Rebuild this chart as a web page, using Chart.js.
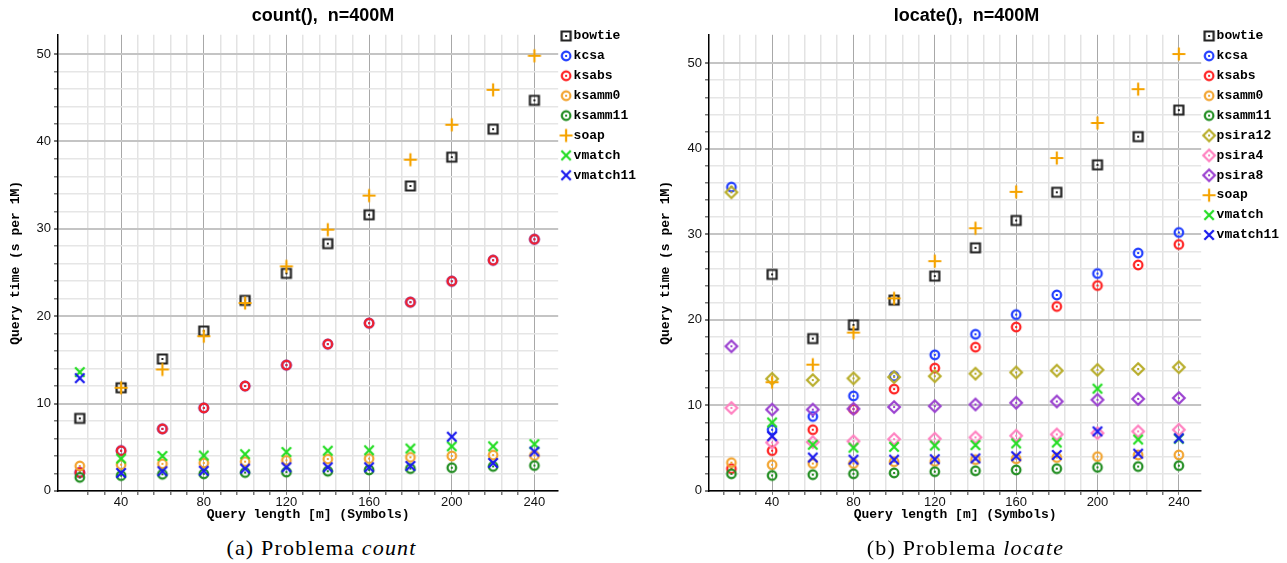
<!DOCTYPE html>
<html>
<head>
<meta charset="utf-8">
<script src="https://cdn.jsdelivr.net/npm/chart.js@4.4.1/dist/chart.umd.min.js"></script>
<style>
  body { margin: 0; background: #fff; width: 1287px; height: 563px; overflow: hidden; position: relative; }
  .panel { position: absolute; top: 0; height: 563px; }
  .panel canvas { display: block; }
  .caption { font-family: 'Liberation Serif', serif; font-size: 22px; letter-spacing: 1.2px;
             text-align: center; line-height: 24px; margin-top: 9px; color: #000; }
</style>
</head>
<body>
<div class="panel" style="left:0px; width:643px">
  <canvas id="countChart" width="646" height="527"></canvas>
  <div class="caption" style="width:643px">(a) Problema <i>count</i></div>
</div>
<div class="panel" style="left:644px; width:643px">
  <canvas id="locateChart" width="645" height="527"></canvas>
  <div class="caption" style="width:643px">(b) Problema <i>locate</i></div>
</div>
<script>
// query lengths (x axis)
const queryLengths = [20, 40, 60, 80, 100, 120, 140, 160, 180, 200, 220, 240];

// count(), n=400M  -- seconds per 1M queries
const bowtieCount   = [8.3, 11.8, 15.1, 18.3, 21.8, 24.9, 28.3, 31.6, 34.9, 38.2, 41.4, 44.7];
const kcsaCount     = [2.1, 4.6, 7.1, 9.5, 12.0, 14.4, 16.8, 19.2, 21.6, 24.0, 26.4, 28.8];
const ksabsCount    = [2.1, 4.6, 7.1, 9.5, 12.0, 14.4, 16.8, 19.2, 21.6, 24.0, 26.4, 28.8];
const ksamm0Count   = [2.85, 3.0, 3.1, 3.2, 3.35, 3.5, 3.65, 3.7, 3.85, 4.0, 4.1, 4.05];
const ksamm11Count  = [1.55, 1.75, 1.9, 1.95, 2.1, 2.15, 2.25, 2.4, 2.55, 2.65, 2.8, 2.9];
const soapCount     = [null, 11.8, 13.9, 17.7, 21.5, 25.7, 29.9, 33.8, 37.9, 41.9, 45.9, 49.8];
const vmatchCount   = [13.6, 3.7, 4.0, 4.05, 4.2, 4.45, 4.6, 4.65, 4.85, 5.1, 5.1, 5.35];
const vmatch11Count = [12.9, 2.05, 2.25, 2.3, 2.55, 2.7, 2.7, 2.7, 2.85, 6.2, 3.2, 4.5];

// locate(), n=400M
const bowtieLocate   = [null, 25.3, 17.8, 19.4, 22.3, 25.1, 28.4, 31.6, 34.9, 38.1, 41.4, 44.5];
const kcsaLocate     = [35.5, 7.15, 8.7, 11.1, 13.4, 15.9, 18.3, 20.6, 22.9, 25.4, 27.8, 30.2];
const ksabsLocate    = [2.6, 4.7, 7.15, 9.55, 11.9, 14.35, 16.8, 19.15, 21.55, 24.0, 26.4, 28.8];
const ksamm0Locate   = [3.3, 3.05, 3.2, 3.2, 3.4, 3.45, 3.65, 3.75, 3.9, 4.0, 4.2, 4.2];
const ksamm11Locate  = [2.0, 1.8, 1.9, 2.0, 2.1, 2.25, 2.35, 2.45, 2.6, 2.75, 2.85, 2.95];
const psira12Locate  = [34.9, 13.1, 12.95, 13.15, 13.3, 13.4, 13.7, 13.85, 14.05, 14.15, 14.25, 14.45];
const psira4Locate   = [9.7, 5.65, 5.7, 5.8, 6.05, 6.1, 6.25, 6.45, 6.6, 6.75, 6.95, 7.15];
const psira8Locate   = [16.9, 9.5, 9.5, 9.6, 9.8, 9.9, 10.1, 10.3, 10.45, 10.65, 10.75, 10.85];
const soapLocate     = [null, 12.7, 14.75, 18.5, 22.5, 26.85, 30.7, 34.95, 38.9, 43.0, 46.95, 51.05];
const vmatchLocate   = [null, 8.0, 5.4, 5.05, 5.15, 5.3, 5.35, 5.55, 5.65, 11.95, 6.0, 6.1];
const vmatch11Locate = [null, 6.4, 3.9, 3.65, 3.65, 3.7, 3.8, 4.05, 4.2, 6.95, 4.35, 6.15];

const countNames = ['bowtie', 'kcsa', 'ksabs', 'ksamm0', 'ksamm11', 'soap', 'vmatch', 'vmatch11'];
const countValues = [bowtieCount, kcsaCount, ksabsCount, ksamm0Count, ksamm11Count, soapCount, vmatchCount, vmatch11Count];

const locateNames = ['bowtie', 'kcsa', 'ksabs', 'ksamm0', 'ksamm11', 'psira12', 'psira4', 'psira8', 'soap', 'vmatch', 'vmatch11'];
const locateValues = [bowtieLocate, kcsaLocate, ksabsLocate, ksamm0Locate, ksamm11Locate, psira12Locate, psira4Locate, psira8Locate, soapLocate, vmatchLocate, vmatch11Locate];

// gnuplot-like point markers (shape, colour)
const markerStyle = {
  bowtie:   ['square', '#222222'],
  kcsa:     ['circle', '#1f3cff'],
  ksabs:    ['circle', '#ff2020'],
  ksamm0:   ['circle', '#f2a430'],
  ksamm11:  ['circle', '#1f8c1f'],
  psira12:  ['diamond', '#b8ad2a'],
  psira4:   ['diamond', '#ff80c0'],
  psira8:   ['diamond', '#9a40d0'],
  soap:     ['plus', '#f5a300'],
  vmatch:   ['cross', '#22dd22'],
  vmatch11: ['cross', '#1a1aee']
};

function makeMarker(shape, color) {
  const c = document.createElement('canvas');
  c.width = 16; c.height = 16;
  const g = c.getContext('2d');
  const m = 8;
  g.strokeStyle = color; g.fillStyle = color; g.lineWidth = 2.2;
  g.beginPath();
  if (shape === 'circle') g.arc(m, m, 4.3, 0, 2 * Math.PI);
  else if (shape === 'square') g.rect(m - 4.5, m - 4.5, 9, 9);
  else if (shape === 'diamond') { g.moveTo(m, m - 5.8); g.lineTo(m + 5.8, m); g.lineTo(m, m + 5.8); g.lineTo(m - 5.8, m); g.closePath(); }
  else if (shape === 'plus') { g.moveTo(m - 6.5, m); g.lineTo(m + 6.5, m); g.moveTo(m, m - 6.5); g.lineTo(m, m + 6.5); }
  else if (shape === 'cross') { g.moveTo(m - 4.7, m - 4.7); g.lineTo(m + 4.7, m + 4.7); g.moveTo(m + 4.7, m - 4.7); g.lineTo(m - 4.7, m + 4.7); }
  g.stroke();
  if (shape === 'circle' || shape === 'square' || shape === 'diamond') {
    g.fillRect(m - 1, m - 1, 2, 2);
  }
  return c;
}

function buildDatasets(names, values) {
  return names.map((name, i) => ({
    label: name,
    data: queryLengths.map((x, j) => ({ x: x, y: values[i][j] })).filter(p => p.y !== null),
    pointStyle: makeMarker(markerStyle[name][0], markerStyle[name][1]),
    pointRadius: 5,
    pointHoverRadius: 5,
    borderColor: markerStyle[name][1],
    backgroundColor: markerStyle[name][1],
    showLine: false,
    order: names.length - i   // later series drawn on top, like gnuplot
  }));
}

const isMult = (v, k) => Math.abs(v - Math.round(v / k) * k) < 1e-6;
const monoBold = { family: "'Liberation Mono', monospace", size: 13, weight: 'bold' };
const tickFont = { family: "'Liberation Sans', sans-serif", size: 13, lineHeight: 1 };

function makeChart(id, titleText, names, values, xMin, xMax, yMax, yTitlePad) {
  new Chart(document.getElementById(id), {
    type: 'scatter',
    data: { datasets: buildDatasets(names, values) },
    options: {
      responsive: false,
      animation: false,
      layout: { padding: { left: 0, right: 0, top: 0, bottom: 0 } },
      plugins: {
        title: {
          display: true,
          text: titleText,
          color: '#000',
          font: { family: "'Liberation Sans', sans-serif", size: 18, weight: 'bold', lineHeight: 1.1 },
          padding: { top: 6, bottom: 9 }
        },
        legend: {
          position: 'right',
          align: 'start',
          // empty title only used to push the entries down to the plot top
          title: { display: true, text: '', font: { size: 12, lineHeight: 1 }, padding: 5.3 },
          labels: {
            usePointStyle: true,
            boxWidth: 2,
            padding: 6.9,
            color: '#000',
            font: monoBold,
            sort: (a, b) => a.datasetIndex - b.datasetIndex
          }
        },
        tooltip: { enabled: false }
      },
      scales: {
        x: {
          type: 'linear',
          min: xMin,
          max: xMax,
          border: { color: '#000', width: 1.5 },
          grid: {
            color: ctx => isMult(ctx.tick.value, 40) ? '#a8a8a8' : (isMult(ctx.tick.value, 8) ? '#e3e3e3' : 'rgba(0,0,0,0)'),
            lineWidth: ctx => isMult(ctx.tick.value, 40) ? 1 : 1.5,
            tickLength: 4,
            tickColor: ctx => isMult(ctx.tick.value, 8) ? '#777' : 'rgba(0,0,0,0)'
          },
          ticks: {
            stepSize: 8,
            autoSkip: false,
            maxRotation: 0,
            padding: 1,
            color: '#111',
            font: tickFont,
            callback: v => isMult(v, 40) ? String(Math.round(v)) : ''
          },
          title: {
            display: true,
            text: 'Query length [m] (Symbols)',
            color: '#000',
            font: monoBold,
            padding: { top: -2.5, bottom: 4 }
          }
        },
        y: {
          type: 'linear',
          min: 0,
          max: yMax,
          border: { color: '#000', width: 1.5 },
          grid: {
            color: ctx => isMult(ctx.tick.value, 10) ? '#c4c4c4' : (isMult(ctx.tick.value, 2) ? '#e6e6e6' : 'rgba(0,0,0,0)'),
            lineWidth: ctx => isMult(ctx.tick.value, 10) ? 2 : 1.5,
            tickLength: 4,
            tickColor: ctx => isMult(ctx.tick.value, 2) ? '#777' : 'rgba(0,0,0,0)'
          },
          ticks: {
            stepSize: 2,
            autoSkip: false,
            padding: 3,
            color: '#111',
            font: tickFont,
            callback: v => isMult(v, 10) ? String(Math.round(v)) : ''
          },
          title: {
            display: true,
            text: 'Query time (s per 1M)',
            color: '#000',
            font: monoBold,
            padding: yTitlePad
          }
        }
      }
    }
  });
}

makeChart('countChart', 'count(),  n=400M', countNames, countValues, 9.5, 251.5, 52.2, { top: 8, bottom: 10 });
makeChart('locateChart', 'locate(),  n=400M', locateNames, locateValues, 9, 251, 53.3, { top: 14, bottom: 11 });
</script>
</body>
</html>
